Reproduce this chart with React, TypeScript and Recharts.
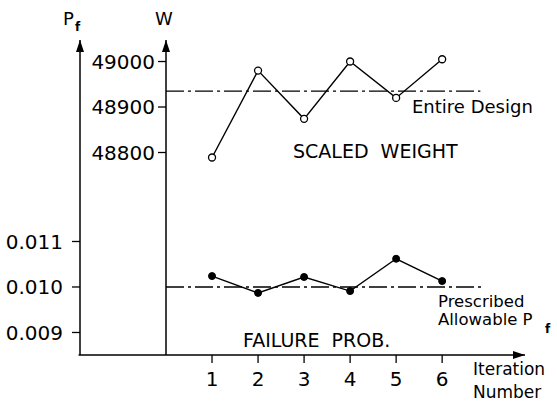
import { ComposedChart, Line, XAxis, YAxis, ReferenceLine } from "recharts";

// Iteration history: scaled weight W and failure probability Pf
const iterations = [1, 2, 3, 4, 5, 6];
const scaledWeight = [48789, 48980, 48874, 49000, 48920, 49005];
const failureProb = [0.01024, 0.00987, 0.01022, 0.00991, 0.01062, 0.01013];
const weightTicks = [48800, 48900, 49000];
const probTicks = [0.009, 0.01, 0.011];
const entireDesignWeight = 48935;
const allowableProb = 0.01;

const data = iterations.map((it, i) => ({
  it,
  w: scaledWeight[i],
  pf: failureProb[i],
}));

const font = "DejaVu Sans";
const ink = "#000";
const dashDot = "18 4 3 4";
const pfDomain = [0.008505, 0.015429];

// axis ids: the weight axis must sit next to the plot, Pf axis outside it
const W_AXIS = "aWeight";
const PF_AXIS = "bProb";

const App = () => {
  return (
    <div style={{ position: "absolute", left: 0, top: 0, background: "#fff" }}>
      <ComposedChart
        width={557}
        height={404}
        data={data}
        margin={{ top: 40, right: 32, left: 0, bottom: 19 }}
      >
        <defs>
          <marker
            id="arrowHead"
            viewBox="0 0 12 8"
            refX="12"
            refY="4"
            markerWidth="12"
            markerHeight="8"
            markerUnits="userSpaceOnUse"
            orient="auto-start-reverse"
          >
            <path d="M0,0 L12,4 L0,8 z" fill={ink} />
          </marker>
        </defs>
        <XAxis
          dataKey="it"
          type="number"
          domain={[0, 7.8]}
          ticks={iterations}
          allowDataOverflow
          height={30}
          tickSize={8}
          tickMargin={9}
          axisLine={{ stroke: ink, strokeWidth: 1.5, markerEnd: "url(#arrowHead)" }}
          tickLine={{ stroke: ink, strokeWidth: 1.3 }}
          tick={{ fill: ink, fontSize: 20, fontFamily: font }}
        />
        <YAxis
          yAxisId={W_AXIS}
          orientation="left"
          width={86}
          domain={[48354.9, 49047.3]}
          allowDataOverflow
          ticks={weightTicks}
          tickSize={8}
          tickMargin={3}
          axisLine={{ stroke: ink, strokeWidth: 1.5, markerStart: "url(#arrowHead)" }}
          tickLine={{ stroke: ink, strokeWidth: 1.3 }}
          tick={{ fill: ink, fontSize: 20, fontFamily: font }}
        />
        <YAxis
          yAxisId={PF_AXIS}
          orientation="left"
          width={80}
          domain={pfDomain}
          allowDataOverflow
          ticks={probTicks}
          tickFormatter={(v: number) => v.toFixed(3)}
          tickSize={8}
          tickMargin={9}
          axisLine={{ stroke: ink, strokeWidth: 1.5, markerStart: "url(#arrowHead)" }}
          tickLine={{ stroke: ink, strokeWidth: 1.3 }}
          tick={{ fill: ink, fontSize: 20, fontFamily: font }}
        />
        {/* x-axis continues left to the Pf axis */}
        <ReferenceLine
          yAxisId={PF_AXIS}
          ifOverflow="visible"
          segment={[
            { x: -1.9, y: pfDomain[0] },
            { x: 0, y: pfDomain[0] },
          ]}
          stroke={ink}
          strokeWidth={1.5}
        />
        <ReferenceLine
          yAxisId={W_AXIS}
          segment={[
            { x: 0, y: entireDesignWeight },
            { x: 6.83, y: entireDesignWeight },
          ]}
          stroke={ink}
          strokeWidth={1.3}
          strokeDasharray={dashDot}
        />
        <ReferenceLine
          yAxisId={PF_AXIS}
          segment={[
            { x: 0, y: allowableProb },
            { x: 6.87, y: allowableProb },
          ]}
          stroke={ink}
          strokeWidth={1.3}
          strokeDasharray={dashDot}
        />
        <Line
          yAxisId={W_AXIS}
          dataKey="w"
          type="linear"
          stroke={ink}
          strokeWidth={1.4}
          dot={{ r: 3.5, fill: "#fff", stroke: ink, strokeWidth: 1.3 }}
          isAnimationActive={false}
        />
        <Line
          yAxisId={PF_AXIS}
          dataKey="pf"
          type="linear"
          stroke={ink}
          strokeWidth={1.4}
          dot={{ r: 3.5, fill: ink, stroke: ink, strokeWidth: 1 }}
          isAnimationActive={false}
        />
        <g fontFamily={font} fill={ink}>
          <text x={63} y={25} fontSize={18}>P</text>
          <text x={75} y={31} fontSize={12} fontWeight="bold">f</text>
          <text x={155} y={25} fontSize={18}>W</text>
          <text x={293} y={158} fontSize={19} style={{ whiteSpace: "pre" }}>
            SCALED  WEIGHT
          </text>
          <text x={412} y={113} fontSize={18}>Entire Design</text>
          <text x={243} y={347} fontSize={19} style={{ whiteSpace: "pre" }}>
            FAILURE  PROB.
          </text>
          <text x={438} y={307} fontSize={16.5}>Prescribed</text>
          <text x={438} y={325} fontSize={16.5}>Allowable P</text>
          <text x={545} y={333} fontSize={12} fontWeight="bold">f</text>
          <text x={473} y={375} fontSize={17}>Iteration</text>
          <text x={473} y={398} fontSize={17}>Number</text>
        </g>
      </ComposedChart>
    </div>
  );
};

export default App;
